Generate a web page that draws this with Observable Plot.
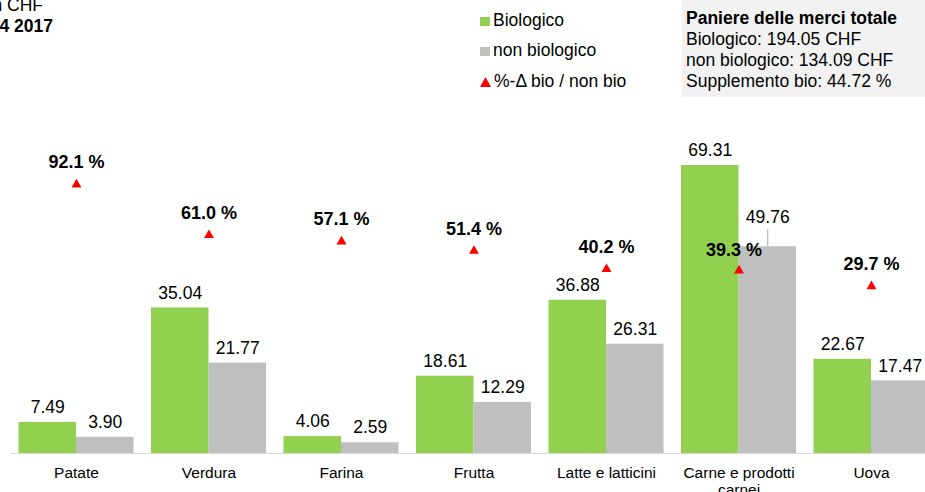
<!DOCTYPE html>
<html>
<head>
<meta charset="utf-8">
<script src="https://cdn.jsdelivr.net/npm/d3@7"></script>
<script src="https://cdn.jsdelivr.net/npm/@observablehq/plot@0.6"></script>
<style>
html, body { margin: 0; padding: 0; background: #fff; }
#wrap { position: relative; width: 925px; height: 492px; overflow: hidden; font-family: "Liberation Sans", Arial, sans-serif; color: #000; }
#chart { position: absolute; left: 0; top: 0; }
.abs { position: absolute; white-space: nowrap; line-height: 21px; font-size: 17.5px; }
#info { position: absolute; left: 682px; top: 0; width: 260px; height: 97px; background: #f2f2f2; }
.sw { display: inline-block; width: 10px; height: 9px; margin-right: 3px; vertical-align: 0px; }
</style>
</head>
<body>
<div id="wrap">
  <div id="info"></div>
  <div id="chart"></div>
  <div class="abs" style="right: 882px; top: -5px;">Prezzi in CHF</div>
  <div class="abs" style="right: 872px; top: 16px; font-weight: bold;">Trimestre 4 2017</div>
  <div class="abs" style="left: 480px; top: 10px;"><span class="sw" style="background:#92d050"></span>Biologico</div>
  <div class="abs" style="left: 480px; top: 40px;"><span class="sw" style="background:#bfbfbf"></span>non biologico</div>
  <div class="abs" style="left: 480px; top: 71px;"><svg width="11" height="10" style="margin-right:3px;vertical-align:0px"><polygon points="5.5,0 11,10 0,10" fill="#ff0000"/></svg>%-Δ bio / non bio</div>
  <div class="abs" style="left: 686px; top: 8px; font-weight: bold;">Paniere delle merci totale</div>
  <div class="abs" style="left: 686px; top: 29px;">Biologico: 194.05 CHF</div>
  <div class="abs" style="left: 686px; top: 50px;">non biologico: 134.09 CHF</div>
  <div class="abs" style="left: 686px; top: 71px;">Supplemento bio: 44.72 %</div>
</div>
<script>
const categories = ["Patate", "Verdura", "Farina", "Frutta", "Latte e latticini", "Carne e prodotti carnei", "Uova"];
const bio = [7.49, 35.04, 4.06, 18.61, 36.88, 69.31, 22.67];
const nonBio = [3.90, 21.77, 2.59, 12.29, 26.31, 49.76, 17.47];
const deltaPct = [92.1, 61.0, 57.1, 51.4, 40.2, 39.3, 29.7];

const green = "#92d050";
const grey = "#bfbfbf";
const red = "#ff0000";
const font = "'Liberation Sans', Arial, sans-serif";

const rows = categories.map((c, i) => ({cat: c, bio: bio[i], non: nonBio[i], delta: deltaPct[i]}));
const special = "Carne e prodotti carnei";
const normal = rows.filter(d => d.cat !== special);
const spec = rows.filter(d => d.cat === special);

// secondary axis (%) expressed on the primary value axis
const pct = d3.scaleLinear().domain([0, 100]).range([28.59, 67.84]);
const half = 57.5;

const chart = Plot.plot({
  width: 925,
  height: 492,
  marginLeft: 0, marginRight: 0, marginTop: 0, marginBottom: 39,
  style: {fontFamily: font, background: "transparent", color: "#000"},
  x: {type: "band", domain: categories, range: [1, 946], padding: 0.132, round: false, axis: null},
  y: {domain: [0, 80], range: [453, 453 - 80 * 4.155], axis: null},
  marks: [
    Plot.barY(rows, {x: "cat", y: "bio", fill: green, insetRight: half}),
    Plot.barY(rows, {x: "cat", y: "non", fill: grey, insetLeft: half}),
    Plot.ruleY([0], {stroke: "#d9d9d9", insetLeft: 10}),
    Plot.text(rows, {x: "cat", y: "bio", text: d => d.bio.toFixed(2), dx: -half / 2, dy: -15, fontSize: 17.5, fill: "#000"}),
    Plot.text(normal, {x: "cat", y: "non", text: d => d.non.toFixed(2), dx: half / 2, dy: -15, fontSize: 17.5, fill: "#000"}),
    Plot.ruleX(spec, {x: "cat", y1: "non", y2: d => d.non + 17 / 4.155, dx: half / 2, stroke: "#a6a6a6", strokeWidth: 1}),
    Plot.text(spec, {x: "cat", y: "non", text: d => d.non.toFixed(2), dx: half / 2, dy: -29, fontSize: 17.5, fill: "#000"}),
    Plot.dot(rows, {x: "cat", y: d => pct(d.delta), symbol: "triangle", r: 3.7, fill: red, stroke: "none"}),
    Plot.text(normal, {x: "cat", y: d => pct(d.delta), text: d => d.delta.toFixed(1) + " %", dy: -22, fontSize: 18, fontWeight: "bold", fill: "#000"}),
    Plot.text(spec, {x: "cat", y: d => pct(d.delta), text: d => d.delta.toFixed(1) + " %", dx: -5, dy: -20, fontSize: 18, fontWeight: "bold", fill: "#000"}),
    Plot.text(categories, {x: d => d, frameAnchor: "bottom", lineAnchor: "top", dy: 12, fontSize: 15.5, lineWidth: 8, lineHeight: 1.13, fill: "#000"})
  ]
});
document.getElementById("chart").appendChild(chart);
</script>
</body>
</html>
